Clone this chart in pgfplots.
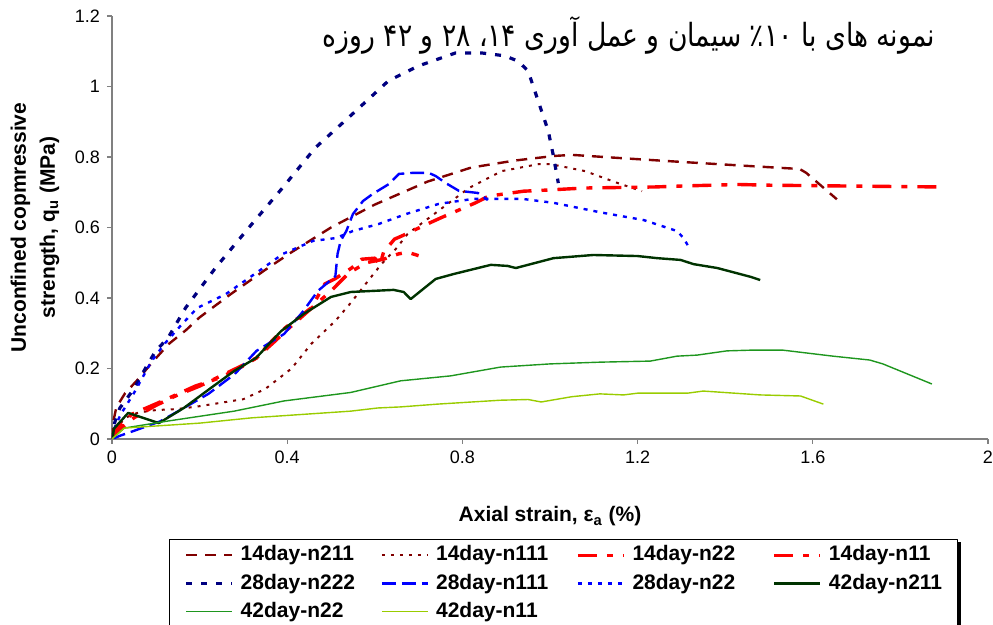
\documentclass[border=0pt]{standalone}
\usepackage{fontspec}
\setmainfont{Liberation Sans}
\newfontfamily\arabicfont[Script=Arabic]{DejaVu Sans}
\TeXXeTstate=1
\usepackage{graphicx}
\usepackage{pgfplots}
\pgfplotsset{compat=1.18}
\definecolor{dred}{RGB}{128,0,0}
\definecolor{navyc}{RGB}{0,0,128}
\definecolor{dgreen}{RGB}{0,51,0}
\definecolor{mgreen}{RGB}{30,150,30}
\definecolor{ygreen}{RGB}{153,204,0}
\newcommand{\lb}[1]{\makebox[70pt][l]{#1}}
\begin{document}
\begin{tikzpicture}
\useasboundingbox (-56pt,-93pt) rectangle (440.5pt,219.5pt);
\begin{axis}[
  at={(0,0)}, anchor=south west,
  scale only axis, width=438pt, height=211.5pt,
  xmin=0, xmax=2, ymin=0, ymax=1.2,
  xtick={0,0.4,0.8,1.2,1.6,2}, xticklabels={0,0.4,0.8,1.2,1.6,2},
  ytick={0,0.2,0.4,0.6,0.8,1,1.2}, yticklabels={0,0.2,0.4,0.6,0.8,1,1.2},
  axis lines*=left,
  axis line style={gray, line width=0.8pt},
  tick style={gray, line width=0.6pt},
  tick align=outside, major tick length=2.5pt,
  /pgf/number format/assume math mode=true,
  ticklabel style={font=\fontsize{9}{10}\selectfont},
  xlabel={Axial strain, ε\textsubscript{a} (\%)},
  xlabel style={font=\bfseries\fontsize{10.5}{12}\selectfont, at={(axis description cs:0.5,-0.183)}, anchor=center},
  ylabel={Unconfined copmressive\\strength, q\textsubscript{u} (MPa)},
  ylabel style={align=center, font=\bfseries\fontsize{10.5}{14.5}\selectfont, at={(axis description cs:-0.088,0.5)}, anchor=center},
  legend columns=4,
  legend image code/.code={\draw[#1] (0pt,0pt) -- (23pt,0pt);},
  legend style={name=leg, at={(axis description cs:0.065,-0.2365)}, anchor=north west,
    draw=black, line width=0.6pt, fill=white,
    font=\bfseries\fontsize{10.5}{12}\selectfont,
    inner xsep=7.5pt, inner ysep=3pt, row sep=4.5pt,
    nodes={inner sep=0pt, text depth=0.2em},
    cells={anchor=west},
    /tikz/every odd column/.append style={column sep=3.5pt}},
  line join=round,
]
% 14day-n211
\addplot[dred, line width=1.2pt, dash pattern=on 5.5pt off 4pt] coordinates {
(0,0) (0.003,0.05) (0.01,0.09) (0.03,0.13) (0.06,0.17) (0.09,0.215) (0.13,0.27) (0.17,0.31) (0.2,0.345) (0.27,0.41) (0.35,0.48) (0.41,0.53) (0.5,0.6) (0.6,0.665) (0.72,0.73) (0.82,0.77) (0.92,0.79) (1.01,0.803) (1.05,0.806) (1.16,0.797) (1.3,0.786) (1.46,0.774) (1.57,0.766) (1.585,0.755) (1.655,0.68)};
\addlegendentry{\lb{14day-n211}}
% 14day-n111
\addplot[dred, line width=1pt, dash pattern=on 1.5pt off 3pt] coordinates {
(0,0) (0.01,0.03) (0.03,0.06) (0.06,0.075) (0.1,0.082) (0.15,0.085) (0.2,0.093) (0.27,0.107) (0.3,0.113) (0.35,0.142) (0.41,0.2) (0.455,0.27) (0.51,0.335) (0.545,0.386) (0.59,0.457) (0.615,0.496) (0.65,0.542) (0.675,0.582) (0.745,0.647) (0.815,0.712) (0.89,0.76) (0.975,0.78) (1.0,0.78) (1.08,0.76) (1.155,0.726) (1.21,0.703)};
\addlegendentry{\lb{14day-n111}}
% 14day-n22
\addplot[red, line width=1.7pt, dash pattern=on 9.5pt off 5pt on 3pt off 5pt] coordinates {
(0,0) (0.01,0.03) (0.045,0.07) (0.11,0.105) (0.19,0.15) (0.245,0.173) (0.3,0.207) (0.33,0.23) (0.365,0.278) (0.395,0.315) (0.455,0.372) (0.486,0.44) (0.51,0.455) (0.547,0.485) (0.57,0.51) (0.6,0.513) (0.612,0.495) (0.62,0.53) (0.645,0.567) (0.66,0.575) (0.72,0.61) (0.75,0.627) (0.83,0.67) (0.86,0.689) (0.94,0.703) (0.99,0.706) (1.08,0.712) (1.24,0.715) (1.31,0.718) (1.43,0.722) (1.5,0.72) (1.65,0.718) (1.89,0.715)};
\addlegendentry{\lb{14day-n22}}
% 14day-n11
\addplot[red, line width=1.7pt, dash pattern=on 9.5pt off 5pt on 3pt off 5pt] coordinates {
(0,0) (0.01,0.02) (0.05,0.06) (0.1,0.095) (0.15,0.125) (0.2,0.15) (0.25,0.18) (0.3,0.21) (0.33,0.23) (0.37,0.275) (0.4,0.31) (0.45,0.365) (0.5,0.42) (0.54,0.47) (0.58,0.5) (0.62,0.51) (0.654,0.525) (0.675,0.53) (0.7,0.52)};
\addlegendentry{14day-n11}
% 28day-n222
\addplot[navyc, line width=1.6pt, dash pattern=on 3pt off 4.5pt] coordinates {
(0,0) (0.003,0.03) (0.007,0.05) (0.018,0.088) (0.05,0.142) (0.082,0.213) (0.1,0.25) (0.128,0.287) (0.168,0.372) (0.236,0.485) (0.312,0.599) (0.389,0.712) (0.464,0.826) (0.549,0.922) (0.631,1.016) (0.699,1.058) (0.784,1.095) (0.845,1.095) (0.897,1.087) (0.927,1.072) (0.95,1.044) (0.973,0.959) (0.996,0.874) (1.007,0.808) (1.019,0.726)};
\addlegendentry{\lb{28day-n222}}
% 28day-n111
\addplot[blue, line width=1.2pt, dash pattern=on 7pt off 3pt] coordinates {
(0,0) (0.02,0.01) (0.05,0.023) (0.11,0.05) (0.16,0.085) (0.22,0.128) (0.28,0.184) (0.33,0.25) (0.393,0.298) (0.435,0.36) (0.47,0.42) (0.51,0.462) (0.515,0.525) (0.522,0.562) (0.535,0.59) (0.55,0.638) (0.573,0.675) (0.595,0.695) (0.632,0.723) (0.655,0.752) (0.687,0.755) (0.723,0.755) (0.739,0.746) (0.762,0.726) (0.792,0.704) (0.835,0.698) (0.858,0.678)};
\addlegendentry{\lb{28day-n111}}
% 28day-n22
\addplot[blue, line width=1.2pt, dash pattern=on 2pt off 3pt] coordinates {
(0,0) (0.005,0.03) (0.02,0.07) (0.05,0.13) (0.09,0.22) (0.12,0.27) (0.16,0.326) (0.195,0.372) (0.26,0.411) (0.336,0.477) (0.39,0.525) (0.459,0.562) (0.511,0.57) (0.55,0.59) (0.609,0.61) (0.671,0.638) (0.746,0.667) (0.824,0.681) (0.938,0.681) (1.008,0.67) (1.115,0.643) (1.214,0.621) (1.29,0.59) (1.305,0.57) (1.318,0.542)};
\addlegendentry{\lb{28day-n22}}
% 42day-n211
\addplot[dgreen, line width=1.2pt] coordinates {
(0,0) (0.005,0.03) (0.037,0.074) (0.107,0.045) (0.164,0.088) (0.226,0.145) (0.279,0.193) (0.329,0.23) (0.386,0.306) (0.438,0.355) (0.5,0.403) (0.545,0.417) (0.643,0.423) (0.666,0.417) (0.682,0.397) (0.739,0.454) (0.78,0.468) (0.865,0.494) (0.903,0.491) (0.922,0.485) (1.008,0.513) (1.099,0.522) (1.2,0.519) (1.245,0.513) (1.298,0.508) (1.328,0.496) (1.382,0.485) (1.458,0.46) (1.48,0.451)};
\addlegendentry{42day-n211}
% 42day-n22
\addplot[mgreen, line width=0.7pt] coordinates {
(0,0) (0.028,0.031) (0.128,0.051) (0.279,0.079) (0.393,0.108) (0.545,0.132) (0.659,0.165) (0.773,0.179) (0.887,0.204) (1.0,0.213) (1.115,0.218) (1.229,0.221) (1.29,0.235) (1.336,0.238) (1.404,0.25) (1.458,0.252) (1.532,0.252) (1.646,0.235) (1.73,0.224) (1.76,0.213) (1.872,0.156)};
\addlegendentry{\lb{42day-n22}}
% 42day-n11
\addplot[ygreen, line width=0.7pt] coordinates {
(0,0) (0.028,0.031) (0.2,0.045) (0.319,0.06) (0.545,0.079) (0.607,0.088) (0.659,0.091) (0.744,0.099) (0.887,0.11) (0.95,0.112) (0.98,0.105) (1.05,0.12) (1.114,0.128) (1.168,0.125) (1.2,0.13) (1.314,0.13) (1.35,0.136) (1.48,0.125) (1.572,0.122) (1.624,0.099)};
\addlegendentry{\lb{42day-n11}}
\node[anchor=center, inner sep=0pt] at (rel axis cs:0.590,0.953) {\scalebox{1}[1.2]{\resizebox{306pt}{!}{\arabicfont\beginR نمونه های با \beginL۱۰\endL{}٪ سیمان و عمل آوری \beginL۱۴\endL{}، \beginL۲۸\endL{} و \beginL۴۲\endL{} روزه\endR}}};
\end{axis}
\fill[black] ([yshift=-1.5pt]leg.north east) rectangle ([xshift=1.5pt,yshift=-1.5pt]leg.south east);
\fill[black] ([xshift=1.5pt]leg.south west) rectangle ([xshift=1.5pt,yshift=-1.5pt]leg.south east);
\end{tikzpicture}
\end{document}
